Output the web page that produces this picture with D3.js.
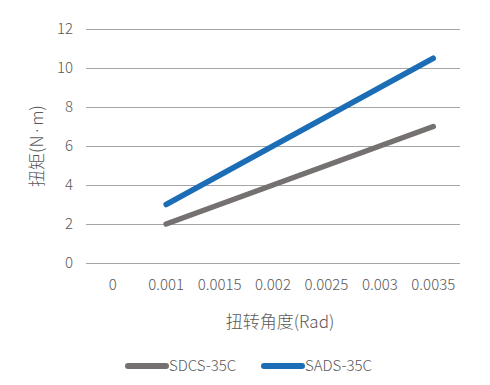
<!DOCTYPE html>
<html><head><meta charset="utf-8">
<script src="https://cdn.jsdelivr.net/npm/d3@7"></script>
<style>body{margin:0;background:#fff}svg{display:block}text{font-family:"Noto Sans CJK SC","Noto Sans",sans-serif;font-weight:300}</style>
</head><body>
<svg id="c" width="490" height="385"></svg>
<script>
const categories = ["0","0.001","0.0015","0.002","0.0025","0.003","0.0035"];
const sdcs = [null,2,3,4,5,6,7];
const sads = [null,3,4.5,6,7.5,9,10.5];
const yTicks = [0,2,4,6,8,10,12];
const seriesNames = ["SDCS-35C","SADS-35C"];
const colors = ["#767171","#1b6db5"];

const svg = d3.select("#c");
const m = {l:86, r:460, t:29, b:263};
const x = d3.scaleBand().domain(categories).range([m.l, m.r]);
const y = d3.scaleLinear().domain([0,12]).range([m.b, m.t]);

// grid
svg.append("g").selectAll("line").data(yTicks).join("line")
  .attr("x1", m.l).attr("x2", m.r)
  .attr("y1", d=>Math.round(y(d))+0.5).attr("y2", d=>Math.round(y(d))+0.5)
  .attr("stroke","#a6a6a6").attr("stroke-width",1);

// y tick labels
svg.append("g").selectAll("text").data(yTicks).join("text")
  .attr("x", 73).attr("y", d=>y(d)).attr("dy","0.35em")
  .attr("text-anchor","end").attr("font-size",15).attr("fill","#595959")
  .text(d=>d);

// x tick labels
svg.append("g").selectAll("text").data(categories).join("text")
  .attr("x", d=>x(d)+x.bandwidth()/2).attr("y", 285).attr("dy","0.35em")
  .attr("text-anchor","middle").attr("font-size",15).attr("fill","#595959")
  .text(d=>d);

// axis titles
svg.append("text").attr("x",280).attr("y",322).attr("dy","0.35em")
  .attr("text-anchor","middle").attr("font-size",17).attr("fill","#595959")
  .text("扭转角度(Rad)");
const yt = svg.append("text").attr("transform","translate(37,146) rotate(-90)").attr("dy","0.35em")
  .attr("text-anchor","middle").attr("font-size",17).attr("fill","#595959");
yt.append("tspan").text("扭矩(N");
yt.append("tspan").style("font-family","'Noto Sans'").text("\u2009·\u2009");
yt.append("tspan").text("m)");

// lines
const line = d3.line().defined(d=>d.v!=null)
  .x(d=>x(d.c)+x.bandwidth()/2).y(d=>y(d.v));
[sdcs, sads].forEach((s,i)=>{
  svg.append("path")
    .datum(categories.map((c,j)=>({c, v:s[j]})))
    .attr("d", line).attr("fill","none")
    .attr("stroke", colors[i]).attr("stroke-width",5.5)
    .attr("stroke-linecap","round").attr("stroke-linejoin","round");
});

// legend
const legX = [128, 264];
seriesNames.forEach((n,i)=>{
  svg.append("line").attr("x1",legX[i]).attr("x2",legX[i]+38)
    .attr("y1",366).attr("y2",366)
    .attr("stroke",colors[i]).attr("stroke-width",6).attr("stroke-linecap","round");
  svg.append("text").attr("x",legX[i]+41).attr("y",366).attr("dy","0.35em")
    .attr("font-size",15).attr("fill","#595959").text(n);
});
</script>
</body></html>
